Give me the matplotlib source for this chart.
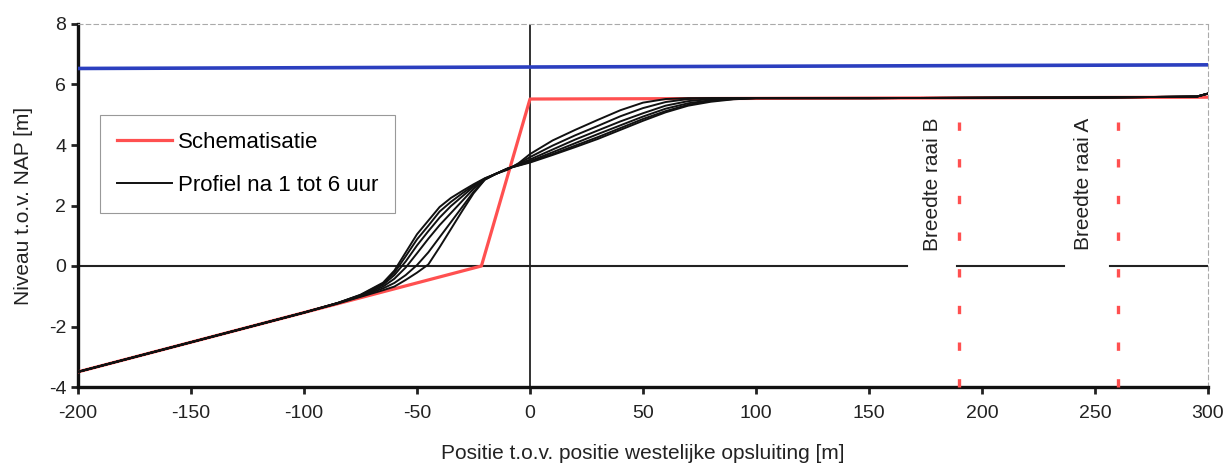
import matplotlib
matplotlib.use("Agg")
import matplotlib.pyplot as plt

plt.rcParams['font.family'] = ['Liberation Sans', 'DejaVu Sans']
plt.rcParams['axes.unicode_minus'] = False

# ---- data ----
blue_x = [-200, 300]
blue_y = [6.53, 6.65]

schem_x = [-200, -21.5, 0, 300]
schem_y = [-3.5, 0.0, 5.52, 5.58]

prof_x = [-200, -100, -85, -75, -65, -60, -55, -50, -45, -40, -35, -30, -25, -20,
          -15, -10, -5, 0, 10, 20, 30, 40, 50, 60, 70, 80, 90, 100, 150, 200,
          250, 295, 300]
prof_1 = [-3.5, -1.54, -1.24, -1.02, -0.80, -0.68, -0.46, -0.22, 0.05, 0.62, 1.22,
          1.82, 2.40, 2.85, 3.05, 3.18, 3.40, 3.70, 4.15, 4.50, 4.83, 5.15, 5.40,
          5.52, 5.55, 5.55, 5.55, 5.55, 5.55, 5.56, 5.57, 5.60, 5.70]
prof_2 = [-3.5, -1.54, -1.23, -1.00, -0.74, -0.56, -0.30, 0.03, 0.45, 0.95, 1.45,
          1.95, 2.45, 2.86, 3.05, 3.20, 3.38, 3.60, 3.98, 4.32, 4.63, 4.95, 5.22,
          5.42, 5.52, 5.55, 5.55, 5.55, 5.55, 5.56, 5.57, 5.60, 5.70]
prof_3 = [-3.5, -1.54, -1.23, -0.98, -0.68, -0.42, -0.05, 0.42, 0.90, 1.35, 1.75,
          2.15, 2.55, 2.87, 3.05, 3.21, 3.36, 3.52, 3.85, 4.18, 4.48, 4.78, 5.05,
          5.30, 5.45, 5.52, 5.55, 5.55, 5.55, 5.56, 5.57, 5.60, 5.70]
prof_4 = [-3.5, -1.54, -1.22, -0.97, -0.62, -0.30, 0.15, 0.68, 1.15, 1.60, 1.98,
          2.30, 2.62, 2.88, 3.05, 3.22, 3.34, 3.47, 3.76, 4.06, 4.36, 4.65, 4.94,
          5.20, 5.38, 5.48, 5.53, 5.55, 5.55, 5.56, 5.57, 5.60, 5.70]
prof_5 = [-3.5, -1.54, -1.22, -0.96, -0.58, -0.22, 0.32, 0.88, 1.33, 1.80, 2.12,
          2.40, 2.66, 2.89, 3.05, 3.22, 3.33, 3.44, 3.70, 3.98, 4.26, 4.56, 4.86,
          5.12, 5.33, 5.46, 5.52, 5.55, 5.55, 5.56, 5.57, 5.60, 5.70]
prof_6 = [-3.5, -1.54, -1.22, -0.95, -0.55, -0.15, 0.45, 1.05, 1.50, 1.95, 2.25,
          2.48, 2.70, 2.90, 3.05, 3.22, 3.32, 3.42, 3.67, 3.93, 4.20, 4.50, 4.80,
          5.08, 5.30, 5.43, 5.51, 5.55, 5.55, 5.56, 5.57, 5.60, 5.70]
profiles = [prof_1, prof_2, prof_3, prof_4, prof_5, prof_6]

raai_x = [190, 260]
raai_labels = ["Breedte raai B", "Breedte raai A"]
raai_label_x = [178, 245]
schem_top = 5.55

x_ticks = [-200, -150, -100, -50, 0, 50, 100, 150, 200, 250, 300]
y_ticks = [-4, -2, 0, 2, 4, 6, 8]

# ---- figure ----
fig = plt.figure(figsize=(12.27, 4.65), dpi=100)
ax = fig.add_axes([78/1227, (465-387)/465, 1130/1227, 363/465])

red = '#ff5050'
blue = '#2b3fbf'

# zero line with gaps for the labels
for x0, x1 in [(-200, 167), (189, 236.5), (256.5, 300)]:
    ax.plot([x0, x1], [0, 0], color='#222222', lw=1.5, zorder=1)
ax.axvline(0, color='#222222', lw=1.3, zorder=1)

ax.plot(blue_x, blue_y, color=blue, lw=2.6, zorder=3)

for i, p in enumerate(profiles):
    ax.plot(prof_x, p, color='#111111', lw=1.4, zorder=4,
            label='Profiel na 1 tot 6 uur' if i == 0 else None)
ax.plot(schem_x, schem_y, color=red, lw=2.3, zorder=3, label='Schematisatie')

for xr, lab, xl in zip(raai_x, raai_labels, raai_label_x):
    ax.plot([xr, xr], [-4, schem_top], color=red, lw=2.4,
            linestyle=(0, (2.5, 8.5)), zorder=5, clip_on=False)
    ax.text(xl, 2.7, lab, rotation=90, ha='center', va='center',
            fontsize=15, color='#222222')

ax.set_xlim(-200, 300)
ax.set_ylim(-4, 8)
ax.set_xticks(x_ticks)
ax.set_yticks(y_ticks)
ax.tick_params(axis='both', direction='out', length=5, width=2,
               labelsize=14, colors='#222222')
ax.tick_params(axis='x', pad=8)

for s in ['left', 'bottom']:
    ax.spines[s].set_linewidth(2.4)
    ax.spines[s].set_color('#111111')
for s in ['top', 'right']:
    ax.spines[s].set_linewidth(0.8)
    ax.spines[s].set_color('#aaaaaa')
    ax.spines[s].set_linestyle((0, (4, 3)))

ax.set_xlabel('Positie t.o.v. positie westelijke opsluiting [m]', fontsize=15,
              color='#222222', labelpad=16)
ax.set_ylabel('Niveau t.o.v. NAP [m]', fontsize=15, color='#222222', labelpad=11)

handles, labels = ax.get_legend_handles_labels()
order = [labels.index('Schematisatie'), labels.index('Profiel na 1 tot 6 uur')]
leg = ax.legend([handles[i] for i in order], [labels[i] for i in order],
                loc='upper left', bbox_to_anchor=(0.0195, 0.749),
                fontsize=16, handlelength=2.5, handletextpad=0.25,
                labelspacing=1.0, borderpad=0.75, fancybox=False,
                framealpha=1, edgecolor='#999999', borderaxespad=0)
leg.get_frame().set_linewidth(0.8)

fig.savefig('out.png', dpi=100)
